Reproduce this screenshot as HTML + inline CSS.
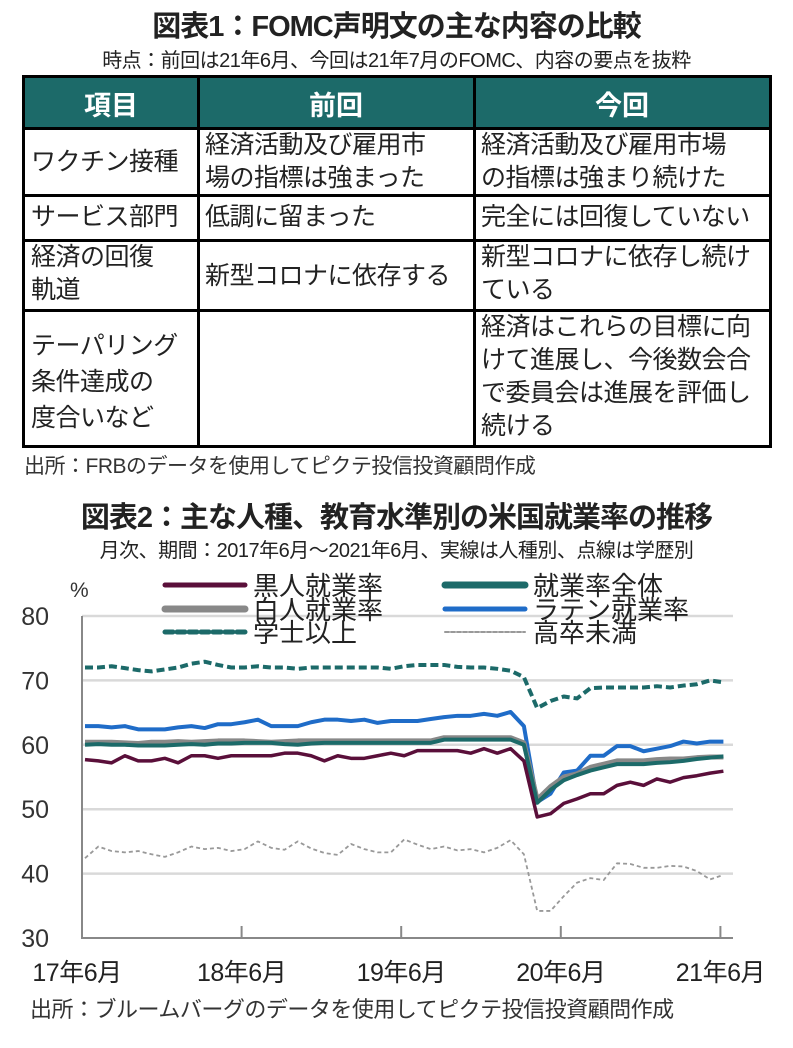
<!DOCTYPE html>
<html><head><meta charset="utf-8">
<style>
body{margin:0;width:793px;height:1048px;background:#fff;position:relative;overflow:hidden;font-family:"Liberation Sans","Noto Sans CJK JP",sans-serif;color:#222}
.a{position:absolute;white-space:nowrap}
.cell{position:absolute;font-size:25px;line-height:33px;color:#222;letter-spacing:-0.5px}
.hl{position:absolute;background:#000}
</style></head><body>
<div class="a" style="left:0;width:793px;text-align:center;top:3px;font-size:29px;font-weight:bold;letter-spacing:-1px">図表1：FOMC声明文の主な内容の比較</div>
<div class="a" style="left:0;width:793px;text-align:center;top:44px;font-size:20px;letter-spacing:-0.5px">時点：前回は21年6月、今回は21年7月のFOMC、内容の要点を抜粋</div>
<div style="position:absolute;left:22px;top:75px;width:750px;height:373px;border:3px solid #000;box-sizing:border-box">
 <div style="position:absolute;left:0;top:0;width:744px;height:50px;background:#1c6a69"></div>
 <div class="a" style="left:0;width:172px;top:6px;text-align:center;color:#fff;font-weight:bold;font-size:27px">項目</div>
 <div class="a" style="left:172px;width:278px;top:6px;text-align:center;color:#fff;font-weight:bold;font-size:27px">前回</div>
 <div class="a" style="left:450px;width:294px;top:6px;text-align:center;color:#fff;font-weight:bold;font-size:27px">今回</div>
 <div class="hl" style="left:172px;top:0;width:3px;height:367px"></div>
 <div class="hl" style="left:448px;top:0;width:3px;height:367px"></div>
 <div class="hl" style="left:0;top:49px;width:744px;height:3px"></div>
 <div class="hl" style="left:0;top:116px;width:744px;height:3px"></div>
 <div class="hl" style="left:0;top:161px;width:744px;height:3px"></div>
 <div class="hl" style="left:0;top:231px;width:744px;height:3px"></div>
 <div class="cell" style="left:6px;top:68px">ワクチン接種</div>
 <div class="cell" style="left:180px;top:51px">経済活動及び雇用市<br>場の指標は強まった</div>
 <div class="cell" style="left:456px;top:51px">経済活動及び雇用市場<br>の指標は強まり続けた</div>
 <div class="cell" style="left:6px;top:123px">サービス部門</div>
 <div class="cell" style="left:180px;top:123px">低調に留まった</div>
 <div class="cell" style="left:456px;top:123px">完全には回復していない</div>
 <div class="cell" style="left:6px;top:163px">経済の回復<br>軌道</div>
 <div class="cell" style="left:180px;top:182px">新型コロナに依存する</div>
 <div class="cell" style="left:456px;top:163px">新型コロナに依存し続け<br>ている</div>
 <div class="cell" style="left:6px;top:250px;line-height:36px">テーパリング<br>条件達成の<br>度合いなど</div>
 <div class="cell" style="left:456px;top:233px;line-height:33px">経済はこれらの目標に向<br>けて進展し、今後数会合<br>で委員会は進展を評価し<br>続ける</div>
</div>
<div class="a" style="left:24px;top:450px;font-size:21px;color:#333;letter-spacing:-0.5px">出所：FRBのデータを使用してピクテ投信投資顧問作成</div>
<div class="a" style="left:0;width:793px;text-align:center;top:494px;font-size:29px;font-weight:bold;letter-spacing:-1px">図表2：主な人種、教育水準別の米国就業率の推移</div>
<div class="a" style="left:0;width:793px;text-align:center;top:534px;font-size:20px;letter-spacing:-0.5px">月次、期間：2017年6月～2021年6月、実線は人種別、点線は学歴別</div>
<svg id="chart" style="position:absolute;left:0;top:0" width="793" height="1048"></svg>
<div class="a" style="left:30px;top:992px;font-size:22px;color:#333;letter-spacing:-0.5px">出所：ブルームバーグのデータを使用してピクテ投信投資顧問作成</div>
<script>
const yTicks=[30,40,50,60,70,80];
const xTickLabels=["17年6月","18年6月","19年6月","20年6月","21年6月"];
const xTickIdx=[0,12,24,36,48];
const black=[57.7,57.5,57.2,58.3,57.5,57.5,57.9,57.2,58.3,58.3,57.9,58.3,58.3,58.3,58.3,58.7,58.7,58.3,57.5,58.3,57.9,57.9,58.3,58.7,58.3,59.1,59.1,59.1,59.1,58.7,59.4,58.7,59.4,57.5,48.8,49.3,50.9,51.6,52.4,52.4,53.7,54.2,53.7,54.7,54.2,54.9,55.2,55.6,55.9];
const white=[60.4,60.4,60.4,60.3,60.2,60.4,60.4,60.5,60.4,60.5,60.6,60.6,60.6,60.5,60.4,60.5,60.6,60.6,60.6,60.6,60.6,60.6,60.6,60.6,60.6,60.6,60.6,61.1,61.1,61.1,61.1,61.1,61.1,60.3,51.5,53.5,55.0,55.5,56.5,57.0,57.5,57.5,57.5,57.7,57.8,57.8,58.0,58.1,58.1];
const overall=[60.0,60.1,60.0,60.0,59.9,59.9,59.9,60.0,60.1,60.0,60.2,60.2,60.3,60.3,60.3,60.1,60.0,60.2,60.3,60.3,60.3,60.3,60.3,60.3,60.3,60.3,60.3,60.8,60.8,60.8,60.8,60.8,60.8,60.0,51.0,53.0,54.5,55.3,56.0,56.5,57.0,57.0,57.0,57.2,57.3,57.5,57.8,58.0,58.2];
const latino=[62.9,62.9,62.7,62.9,62.4,62.4,62.4,62.7,62.9,62.6,63.2,63.2,63.5,63.9,62.9,62.9,62.9,63.5,63.9,63.9,63.7,63.9,63.4,63.7,63.7,63.7,64.0,64.3,64.5,64.5,64.8,64.5,65.1,62.9,51.1,52.4,55.7,56.0,58.3,58.3,59.8,59.8,59.0,59.4,59.8,60.5,60.2,60.5,60.5];
const bachelor=[72.0,72.0,72.2,71.9,71.6,71.4,71.7,72.0,72.6,72.9,72.4,72.0,72.0,72.2,72.0,72.0,71.8,72.0,72.0,72.0,72.0,72.0,72.0,71.8,72.2,72.4,72.4,72.4,72.1,72.0,72.0,71.8,71.5,70.5,65.7,66.8,67.5,67.2,68.8,68.9,68.9,68.9,68.9,69.1,68.9,69.2,69.4,70.0,69.7];
const hsDrop=[42.4,44.2,43.5,43.3,43.5,43.0,42.6,43.3,44.2,43.8,44.0,43.5,43.8,45.0,44.0,43.7,45.0,43.9,43.2,42.9,44.6,43.8,43.3,43.3,45.3,44.5,43.8,44.2,43.6,43.8,43.3,44.0,45.2,43.0,34.2,34.2,36.5,38.6,39.3,39.0,41.6,41.5,40.9,40.9,41.2,41.1,40.4,39.1,39.8];
const NS="http://www.w3.org/2000/svg";
const svg=document.getElementById('chart');
const X0=85,DX=13.3,XL=82,XR=733;
const xs=i=>X0+i*DX;
const ys=v=>616+(80-v)*6.44;
function mk(t,a){const e=document.createElementNS(NS,t);for(const k in a)e.setAttribute(k,a[k]);svg.appendChild(e);return e;}
yTicks.forEach(v=>{
  if(v>30){const g=mk('line',{x1:XL,x2:XR,y1:ys(v),y2:ys(v),stroke:'#d9d9d9','stroke-width':2.5});
  
  }
  const t=mk('text',{x:49,y:ys(v)+9,'text-anchor':'end','font-size':25,fill:'#333','font-family':'Liberation Sans, sans-serif'});t.textContent=v;
  
  
});
const ax=mk('path',{d:`M${XL} ${ys(80)} V${ys(30)} H${XR}`,stroke:'#888','stroke-width':2,fill:'none'});


xTickIdx.forEach((ix,k)=>{
  const x=xs(ix)-3;
  if(k>0){const tk=mk('line',{x1:x,x2:x,y1:ys(30),y2:ys(30)-12,stroke:'#888','stroke-width':2});
  
  }
  const t=mk('text',{x:k==0?x-5:x,y:981,'text-anchor':'middle','font-size':25,fill:'#222','font-family':'Liberation Sans, Noto Sans CJK JP, sans-serif','letter-spacing':'-0.5'});t.textContent=xTickLabels[k];
  
  
});
const pc=mk('text',{x:70,y:597,'font-size':21,fill:'#333','font-family':'Liberation Sans, sans-serif'});pc.textContent='%';


const series=[
 {d:hsDrop,c:'#999',w:1.8,da:'4 3',n:'line-hs-dropout'},
 {d:bachelor,c:'#1c6a69',w:4,da:'8 4',n:'line-bachelor'},
 {d:latino,c:'#1f6cc8',w:4,da:'',n:'line-latino'},
 {d:white,c:'#888',w:5,da:'',n:'line-white'},
 {d:overall,c:'#1c6a69',w:4,da:'',n:'line-overall'},
 {d:black,c:'#5a0f3a',w:3.5,da:'',n:'line-black'}];
series.forEach(s=>{
  const p=mk('polyline',{points:s.d.map((v,i)=>xs(i)+','+ys(v)).join(' '),fill:'none',stroke:s.c,'stroke-width':s.w,'stroke-dasharray':s.da,'stroke-linejoin':'round'});
  
  
});
const legend=[
 {x:165,y:585,c:'#5a0f3a',w:5,da:'',t:'黒人就業率'},
 {x:445,y:585,c:'#1c6a69',w:7,da:'',t:'就業率全体'},
 {x:165,y:609,c:'#888',w:7,da:'',t:'白人就業率'},
 {x:445,y:609,c:'#1f6cc8',w:5,da:'',t:'ラテン就業率'},
 {x:165,y:632,c:'#1c6a69',w:5,da:'8 4',t:'学士以上'},
 {x:445,y:632,c:'#999',w:2,da:'4 2',t:'高卒未満'}];
legend.forEach(l=>{
  const ln=mk('line',{x1:l.x,x2:l.x+80,y1:l.y,y2:l.y,stroke:l.c,'stroke-width':l.w,'stroke-dasharray':l.da,'stroke-linecap':'round'});
  
  
  const t=mk('text',{x:l.x+88,y:l.y+10,'font-size':26,fill:'#222','font-family':'Liberation Sans, Noto Sans CJK JP, sans-serif'});t.textContent=l.t;
  
  
});
</script>
</body></html>
